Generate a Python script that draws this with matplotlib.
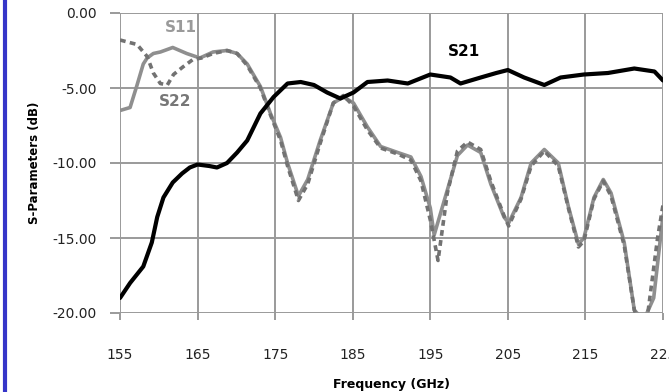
import matplotlib
matplotlib.use("Agg")
import matplotlib.pyplot as plt
from matplotlib.lines import Line2D

plt.rcParams['font.family'] = 'DejaVu Sans'
plt.rcParams['axes.unicode_minus'] = False

# S21 (transmission)
f21 = [155, 156.3, 158, 159.1, 159.8, 160.6, 161.8, 163, 164, 165, 166.5, 167.5, 168.8, 170.1,
       171.4, 173.1, 174.8, 176.6, 178.3, 180, 181.7, 183.4, 185.1, 186.9, 189.5, 192.1, 195,
       197.6, 198.9, 201.5, 203.5, 205, 207.1, 209.7, 211.8, 214.8, 217.9, 221.3, 223.9, 225]
s21 = [-19.0, -18.0, -16.9, -15.3, -13.6, -12.3, -11.3, -10.7, -10.3, -10.1, -10.2, -10.3, -10.0, -9.3,
       -8.5, -6.7, -5.6, -4.7, -4.6, -4.8, -5.3, -5.7, -5.3, -4.6, -4.5, -4.7, -4.1,
       -4.3, -4.7, -4.3, -4.0, -3.8, -4.3, -4.8, -4.3, -4.1, -4.0, -3.7, -3.9, -4.5]

# S11 (input reflection)
f11 = [155, 156.3, 157.2, 158, 158.5, 159.3, 160.2, 161.8, 163.6, 165.3, 167, 168.8, 170.1, 171.4,
       173.1, 174.4, 175.7, 176.6, 178, 179.2, 180.8, 182.5, 183.8, 185.1, 186.9, 188.6, 190.8,
       192.5, 193.8, 195, 195.5, 197.2, 198.5, 199.8, 201.5, 202.8, 204.5, 205.1, 206.7, 208,
       209.7, 211.5, 212.8, 214.1, 214.8, 216.1, 217.3, 218.3, 220, 221.3, 222.5, 223.8, 225]
s11 = [-6.5, -6.3, -4.8, -3.4, -3.0, -2.7, -2.6, -2.3, -2.7, -3.0, -2.6, -2.5, -2.7, -3.4,
       -4.9, -6.7, -8.3, -10.0, -12.2, -11.1, -8.5, -6.0, -5.6, -6.0, -7.6, -8.9, -9.3,
       -9.6, -10.9, -13.0, -14.8, -11.8, -9.5, -8.8, -9.3, -11.4, -13.6, -14.0, -12.3, -10.0,
       -9.1, -10.0, -12.9, -15.4, -15.0, -12.3, -11.1, -12.0, -15.3, -19.8, -20.5, -19.0, -13.5]

# S22 (output reflection)
f22 = [155, 157.2, 158.5, 159.3, 160.2, 161.1, 161.9, 163.1, 164.4, 165.5, 167, 168.8, 170.1, 171.4,
       173.1, 174.4, 175.7, 176.6, 178, 179.2, 180.8, 182.5, 183.8, 185.1, 186.9, 188.6, 190.8,
       192.5, 193.8, 195, 196, 197.2, 198.5, 199.8, 201.5, 202.8, 204.5, 205.1, 206.7, 208,
       209.7, 211.5, 212.8, 214.1, 214.8, 216.1, 217.3, 218.3, 220, 221.3, 222.2, 223.1, 224.3, 225]
s22 = [-1.8, -2.1, -2.9, -4.0, -4.7, -4.8, -4.1, -3.6, -3.1, -3.0, -2.7, -2.5, -2.7, -3.5,
       -5.0, -6.8, -8.5, -10.2, -12.5, -11.4, -8.7, -6.0, -5.5, -6.2, -7.8, -9.0, -9.4,
       -9.8, -11.2, -13.8, -16.5, -12.0, -9.2, -8.6, -9.1, -11.2, -13.5, -14.2, -12.4, -10.2,
       -9.2, -10.2, -13.0, -15.6, -15.2, -12.4, -11.2, -12.2, -15.5, -19.8, -21.0, -19.8, -15.0, -12.8]

xticks = [155, 165, 175, 185, 195, 205, 215, 225]
yticks = [0, -5, -10, -15, -20]

fig = plt.figure(figsize=(6.69, 3.92), dpi=100)
ax = fig.add_axes([120/669, 1 - 313/392, 543/669, 300/392])

ax.plot(f11, s11, color='#8f8f8f', lw=2.6, solid_capstyle='round')
ax.plot(f22, s22, color='#727272', lw=2.6, ls=(0, (1.6, 1.2)))
ax.plot(f21, s21, color='black', lw=3.0, solid_capstyle='round')

ax.set_xlim(155, 225)
ax.set_ylim(-20, 0)
ax.set_xticks(xticks)
ax.set_yticks(yticks)
ax.set_xticklabels([str(v) for v in xticks])
ax.set_yticklabels(['%.2f' % v for v in yticks])
ax.grid(True, color='#9a9a9a', lw=1.4)
for s in ax.spines.values():
    s.set_visible(False)
ax.tick_params(axis='x', direction='out', length=5, width=1.4, color='#9a9a9a',
               pad=20, labelsize=10, labelcolor='#222222')
ax.tick_params(axis='y', direction='out', length=7, width=1.4, color='#9a9a9a',
               pad=10, labelsize=10, labelcolor='#222222')

ax.set_xlabel('Frequency (GHz)', fontsize=9, fontweight='bold', labelpad=12)
ax.set_ylabel('S-Parameters (dB)', fontsize=8.5, fontweight='bold', labelpad=8)

ax.text(162.8, -1.0, 'S11', color='#9a9a9a', fontsize=11, fontweight='bold', ha='center', va='center')
ax.text(162.1, -5.9, 'S22', color='#777777', fontsize=11, fontweight='bold', ha='center', va='center')
ax.text(199.3, -2.6, 'S21', color='black', fontsize=11, fontweight='bold', ha='center', va='center')

# blue bar at the left border
fig.add_artist(Line2D([5/669, 5/669], [0, 1], color='#3535c8', lw=3))

fig.savefig('out.png', dpi=100)
